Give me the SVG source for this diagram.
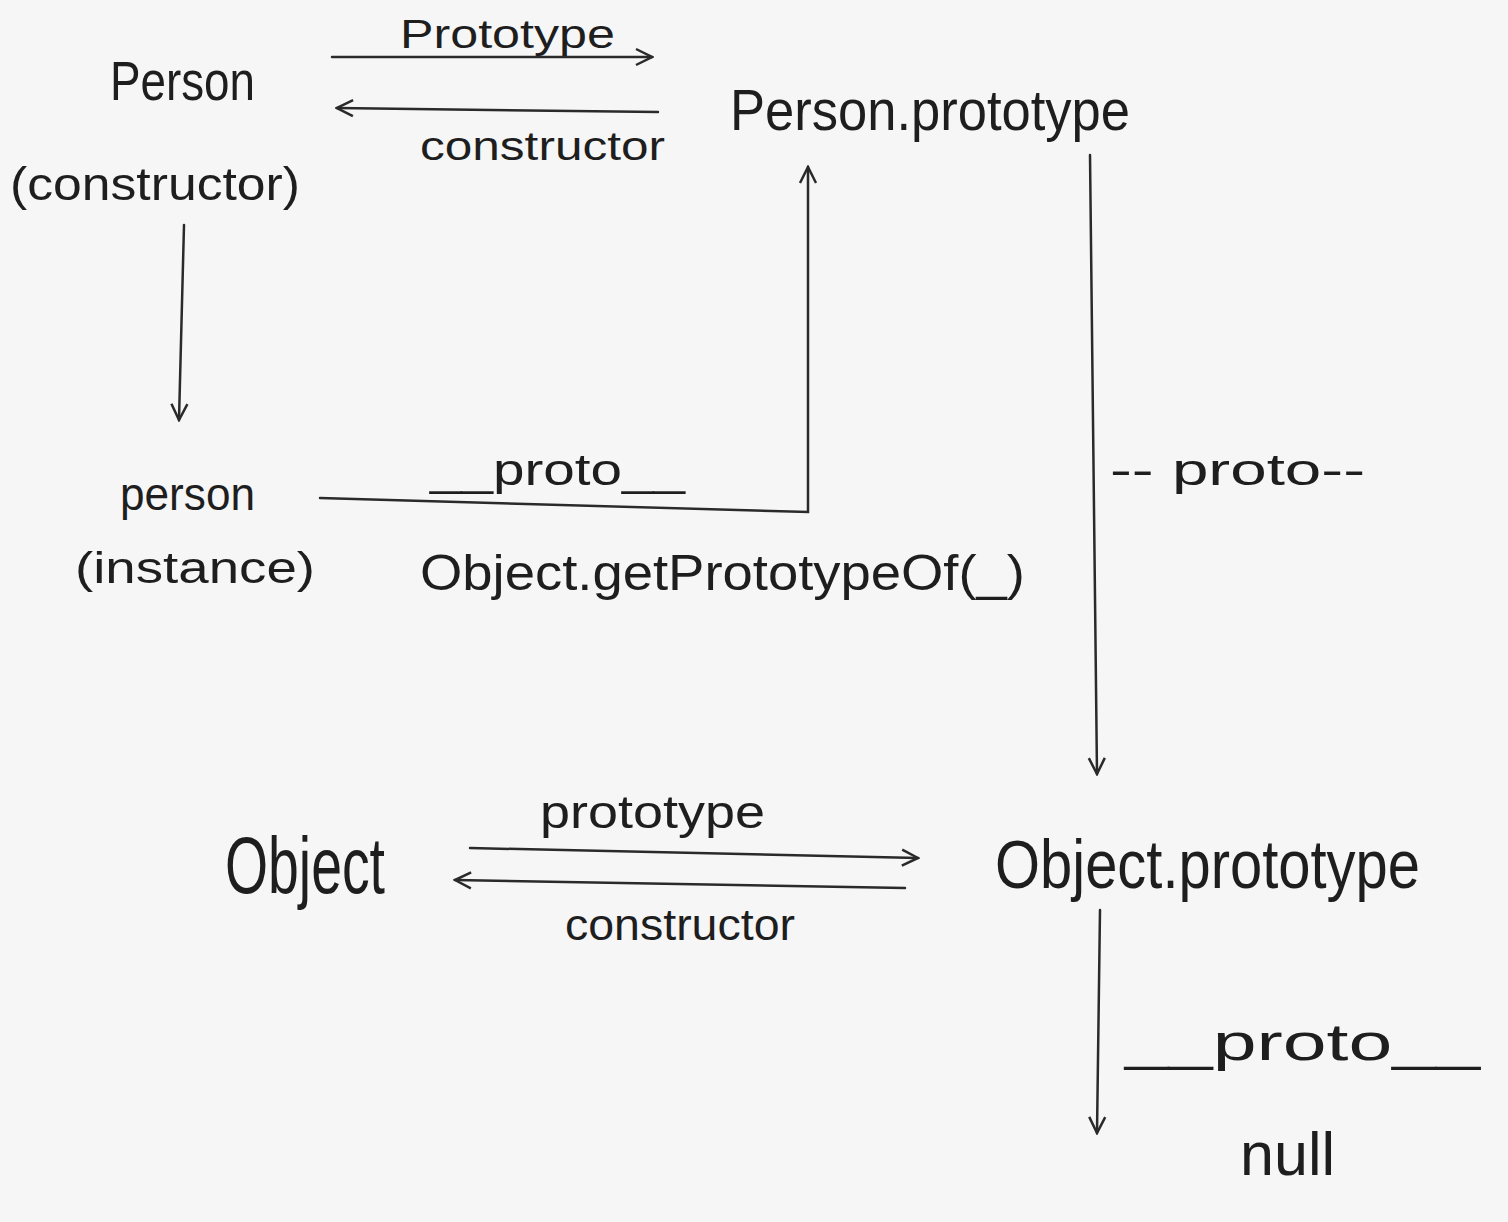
<svg xmlns="http://www.w3.org/2000/svg" width="1508" height="1222" viewBox="0 0 1508 1222">
<defs>
<style>
.t{font-family:"Liberation Sans","DejaVu Sans",sans-serif;fill:#1e1e1e;font-weight:normal}
.l{stroke:#2a2a2a;stroke-width:2.5;fill:none;stroke-linecap:round}
</style>
<marker id="a" viewBox="0 0 20 20" refX="18" refY="10" markerWidth="20" markerHeight="20" markerUnits="userSpaceOnUse" orient="auto">
<path d="M2,2 L18,10 L2,18" fill="none" stroke="#2a2a2a" stroke-width="2.5"/>
</marker>
</defs>
<rect width="1508" height="1222" fill="#f6f6f6"/>
<g id="connectors">
<line class="l" x1="332" y1="57" x2="652" y2="57" marker-end="url(#a)"/>
<line class="l" x1="658" y1="112" x2="337" y2="108" marker-end="url(#a)"/>
<line class="l" x1="184" y1="225" x2="179" y2="420" marker-end="url(#a)"/>
<polyline class="l" points="320,498 808,512 808,167" marker-end="url(#a)"/>
<line class="l" x1="1090" y1="155" x2="1097" y2="774" marker-end="url(#a)"/>
<line class="l" x1="470" y1="848" x2="918" y2="858" marker-end="url(#a)"/>
<line class="l" x1="905" y1="888" x2="455" y2="880" marker-end="url(#a)"/>
<line class="l" x1="1100" y1="910" x2="1097" y2="1133" marker-end="url(#a)"/>
<text class="t" x="400" y="48" font-size="40" textLength="215" lengthAdjust="spacingAndGlyphs">Prototype</text>
<text class="t" x="420" y="160" font-size="40" textLength="245" lengthAdjust="spacingAndGlyphs">constructor</text>
<text class="t" x="430" y="485" font-size="44" textLength="255" lengthAdjust="spacingAndGlyphs">__proto__</text>
<text class="t" x="420" y="590" font-size="50" textLength="605" lengthAdjust="spacingAndGlyphs">Object.getPrototypeOf(_)</text>
<text class="t" x="1110" y="485" font-size="44" textLength="255" lengthAdjust="spacingAndGlyphs">-- proto--</text>
<text class="t" x="540" y="828" font-size="46" textLength="225" lengthAdjust="spacingAndGlyphs">prototype</text>
<text class="t" x="565" y="940" font-size="44" textLength="230" lengthAdjust="spacingAndGlyphs">constructor</text>
<text class="t" x="1125" y="1060" font-size="52" textLength="355" lengthAdjust="spacingAndGlyphs">__proto__</text>
</g>
<g id="person-ctor">
<text class="t" x="110" y="100" font-size="56" textLength="145" lengthAdjust="spacingAndGlyphs">Person</text>
<text class="t" x="10" y="200" font-size="46" textLength="290" lengthAdjust="spacingAndGlyphs">(constructor)</text>
</g>
<g id="person-prototype">
<text class="t" x="730" y="130" font-size="58" textLength="400" lengthAdjust="spacingAndGlyphs">Person.prototype</text>
</g>
<g id="person-instance">
<text class="t" x="120" y="510" font-size="46" textLength="135" lengthAdjust="spacingAndGlyphs">person</text>
<text class="t" x="75" y="583" font-size="44" textLength="240" lengthAdjust="spacingAndGlyphs">(instance)</text>
</g>
<g id="object">
<text class="t" x="225" y="893" font-size="80" textLength="160" lengthAdjust="spacingAndGlyphs">Object</text>
</g>
<g id="object-prototype">
<text class="t" x="995" y="888" font-size="68" textLength="425" lengthAdjust="spacingAndGlyphs">Object.prototype</text>
</g>
<g id="null">
<text class="t" x="1240" y="1175" font-size="62" textLength="95" lengthAdjust="spacingAndGlyphs">null</text>
</g>
</svg>
